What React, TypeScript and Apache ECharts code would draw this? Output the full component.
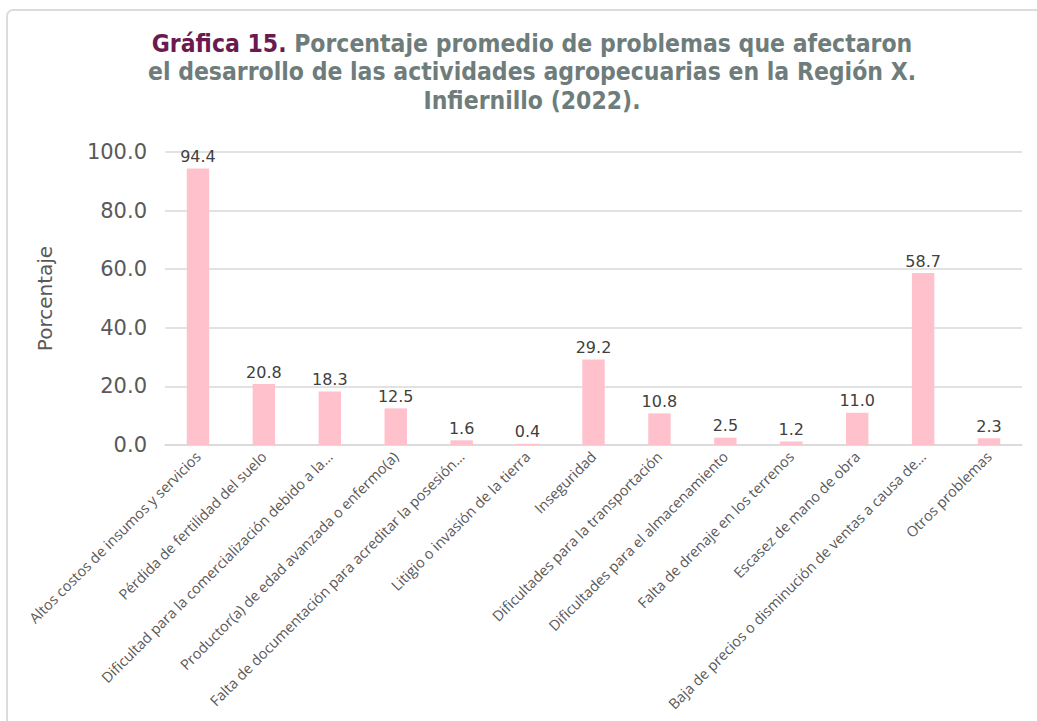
import React, { useEffect, useRef } from "react";
import * as echarts from "echarts";

const categories: string[] = [
  "Altos costos de insumos y servicios",
  "Pérdida de fertilidad del suelo",
  "Dificultad para la comercialización debido a la…",
  "Productor(a) de edad avanzada o enfermo(a)",
  "Falta de documentación para acreditar la posesión…",
  "Litigio o invasión de la tierra",
  "Inseguridad",
  "Dificultades para la transportación",
  "Dificultades para el almacenamiento",
  "Falta de drenaje en los terrenos",
  "Escasez de mano de obra",
  "Baja de precios o disminución de ventas a causa de…",
  "Otros problemas",
];

const values: number[] = [94.4, 20.8, 18.3, 12.5, 1.6, 0.4, 29.2, 10.8, 2.5, 1.2, 11.0, 58.7, 2.3];

const yTicks = { min: 0, max: 100, interval: 20 };

const titleLead = "Gráfica 15.";
const titleLines = [
  " Porcentaje promedio de problemas que afectaron",
  "el desarrollo de las actividades agropecuarias en la Región X.",
  "Infiernillo (2022).",
];
const yName = "Porcentaje";

export default function App() {
  const ref = useRef<HTMLDivElement>(null);
  useEffect(() => {
    if (!ref.current) return;
    const chart = echarts.init(ref.current, undefined, { renderer: "svg" });
    const tFont = "'DejaVu Sans Condensed', 'DejaVu Sans', sans-serif";
    const nFont = "'DejaVu Sans', sans-serif";
    const lFont = "'Open Sans', sans-serif";
    const purple = "#6B1A4F";
    const gray = "#6E7D7B";
    const titleY = [43, 71.5, 100];
    const fs = 24.5;
    const titleText = (y: number, text: string) => ({
      type: "text",
      x: 532,
      y,
      silent: true,
      style: {
        text,
        align: "center",
        verticalAlign: "middle",
        fontFamily: tFont,
        fontWeight: 700,
        fontSize: fs,
        fill: gray,
        rich: {
          a: { fontFamily: tFont, fontWeight: 700, fontSize: fs, fill: purple, color: purple },
          b: { fontFamily: tFont, fontWeight: 700, fontSize: fs, fill: gray, color: gray },
        },
      },
    });
    chart.setOption({
      animation: false,
      backgroundColor: "#ffffff",
      graphic: [
        {
          type: "rect",
          shape: { x: 7, y: 10, width: 1100, height: 800, r: 6 },
          style: { fill: "none", stroke: "#dcdcdc", lineWidth: 2 },
          silent: true,
        },
        titleText(titleY[0], "{a|" + titleLead + "}{b|" + titleLines[0] + "}"),
        titleText(titleY[1], titleLines[1]),
        titleText(titleY[2], titleLines[2]),
      ],
      grid: { left: 165, right: 15, top: 152, bottom: 276 },
      xAxis: {
        type: "category",
        data: categories,
        axisLine: { lineStyle: { color: "#d9d9d9", width: 1.5 } },
        axisTick: { show: false },
        axisLabel: {
          rotate: 45,
          interval: 0,
          fontFamily: lFont,
          fontSize: 14.5,
          color: "#595959",
          margin: 9,
        },
      },
      yAxis: {
        type: "value",
        min: yTicks.min,
        max: yTicks.max,
        interval: yTicks.interval,
        name: yName,
        nameLocation: "middle",
        nameGap: 110,
        nameRotate: 90,
        nameTextStyle: { fontFamily: nFont, fontSize: 20, color: "#595959" },
        axisLabel: {
          fontFamily: nFont,
          fontSize: 21,
          color: "#595959",
          margin: 18,
          formatter: (v: number) => v.toFixed(1),
        },
        splitLine: { lineStyle: { color: "#d9d9d9", width: 1.5 } },
        axisLine: { show: false },
        axisTick: { show: false },
      },
      series: [
        {
          type: "bar",
          data: values,
          barWidth: "34%",
          itemStyle: { color: "#FFC1CC" },
          label: {
            show: true,
            position: "top",
            distance: 4,
            fontFamily: nFont,
            fontSize: 16,
            color: "#404040",
            formatter: (p: any) => Number(p.value).toFixed(1),
          },
        },
      ],
    });
    return () => chart.dispose();
  }, []);
  return (
    <div
      ref={ref}
      style={{ position: "absolute", left: 0, top: 0, width: 1037, height: 721 }}
    />
  );
}
